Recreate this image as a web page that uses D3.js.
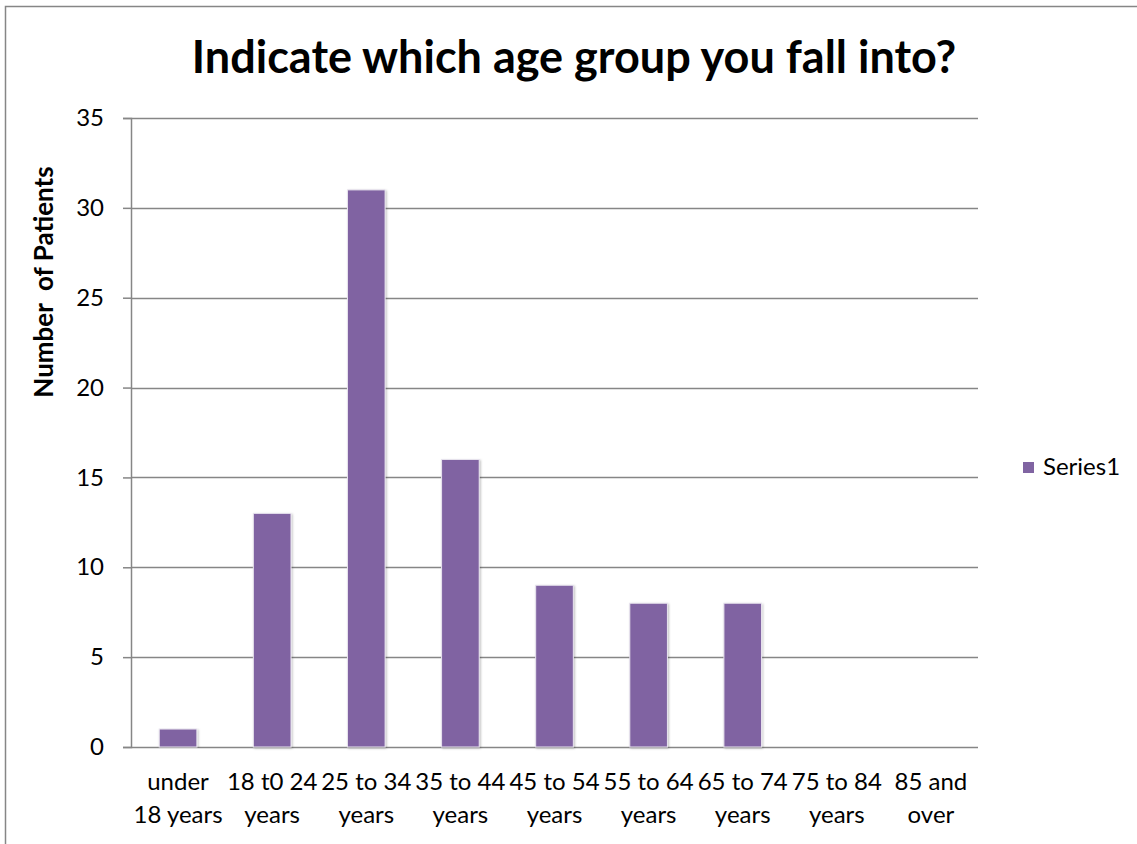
<!DOCTYPE html>
<html>
<head>
<meta charset="utf-8">
<script src="https://cdn.jsdelivr.net/npm/d3@7"></script>
<style>
  html, body { margin: 0; padding: 0; background: #fff; }
  svg { display: block; }
  text { font-family: Lato, "Open Sans", sans-serif; fill: #000; }
</style>
</head>
<body>
<svg id="chart" width="1137" height="844"></svg>
<script>
// Age-group survey counts
const categories = [
  "under\n18 years", "18 t0 24\nyears", "25 to 34\nyears", "35 to 44\nyears",
  "45 to 54\nyears", "55 to 64\nyears", "65 to 74\nyears", "75 to 84\nyears", "85 and\nover"
];
const series1 = [1, 13, 31, 16, 9, 8, 8, 0, 0];
const yTicks = [0, 5, 10, 15, 20, 25, 30, 35];
const seriesName = "Series1";
const chartTitle = "Indicate which age group you fall into?";
const yTitle = "Number  of Patients";

const W = 1137, H = 844;
const plot = { left: 131, right: 978, top: 118, bottom: 747 };
const barColor = "#8064A2";
const gridColor = "#868686";

const svg = d3.select("#chart");

// drop shadow for the bars
const defs = svg.append("defs");
const f = defs.append("filter").attr("id", "shadow")
  .attr("x", "-20%").attr("y", "-5%").attr("width", "140%").attr("height", "110%");
f.append("feDropShadow").attr("dx", 1).attr("dy", 1).attr("stdDeviation", 1.2)
  .attr("flood-color", "#000").attr("flood-opacity", 0.25);

// outer chart border
svg.append("rect")
  .attr("x", 5.5).attr("y", 6.5).attr("width", W + 10).attr("height", H + 10)
  .attr("fill", "#fff").attr("stroke", gridColor).attr("stroke-width", 1.5);

const x = d3.scaleBand()
  .domain(d3.range(categories.length))
  .range([plot.left, plot.right])
  .paddingInner(0.6).paddingOuter(0.3);

const y = d3.scaleLinear().domain([0, 35]).range([plot.bottom, plot.top]);

// y axis with outside tick marks
const yAxis = d3.axisLeft(y).tickValues(yTicks).tickSize(8).tickPadding(19).tickFormat(d3.format("d"));
const gy = svg.append("g").attr("transform", `translate(${plot.left},0)`).call(yAxis);
gy.select(".domain").attr("stroke", gridColor).attr("stroke-width", 1.5);
gy.selectAll(".tick line").attr("stroke", gridColor).attr("stroke-width", 1.5);
gy.selectAll(".tick text").style("font-size", "24px").attr("fill", "#000");

// horizontal gridlines
svg.append("g").selectAll("line")
  .data(yTicks)
  .join("line")
  .attr("x1", plot.left).attr("x2", plot.right)
  .attr("y1", d => Math.round(y(d)) + 0.5).attr("y2", d => Math.round(y(d)) + 0.5)
  .attr("stroke", gridColor).attr("stroke-width", 1.5);

// bars
svg.append("g").selectAll("rect")
  .data(series1)
  .join("rect")
  .attr("x", (d, i) => x(i))
  .attr("width", x.bandwidth())
  .attr("y", d => y(d))
  .attr("height", d => y(0) - y(d))
  .attr("fill", barColor)
  .attr("stroke", "#e8e4ee").attr("stroke-width", 1)
  .attr("filter", "url(#shadow)")
  .style("display", d => d > 0 ? null : "none");

// category labels (two lines each)
const xl = svg.append("g");
categories.forEach((c, i) => {
  const cx = x(i) + x.bandwidth() / 2;
  const t = xl.append("text")
    .attr("text-anchor", "middle")
    .style("font-size", "24px");
  c.split("\n").forEach((line, k) => {
    t.append("tspan").attr("x", cx).attr("y", 790 + k * 33).text(line);
  });
});

// title
svg.append("text")
  .attr("x", 574).attr("y", 73)
  .attr("text-anchor", "middle")
  .style("font-size", "45px").style("font-weight", "bold")
  .text(chartTitle);

// y-axis title
svg.append("text")
  .attr("transform", `translate(53,${282}) rotate(-90)`)
  .attr("text-anchor", "middle")
  .style("font-size", "26px").style("font-weight", "bold")
  .style("white-space", "pre")
  .text(yTitle);

// legend
const lg = svg.append("g").attr("transform", "translate(1023,462)");
lg.append("rect").attr("width", 11).attr("height", 11).attr("fill", barColor);
lg.append("text").attr("x", 20).attr("y", 13).style("font-size", "24px").text(seriesName);
</script>
</body>
</html>
